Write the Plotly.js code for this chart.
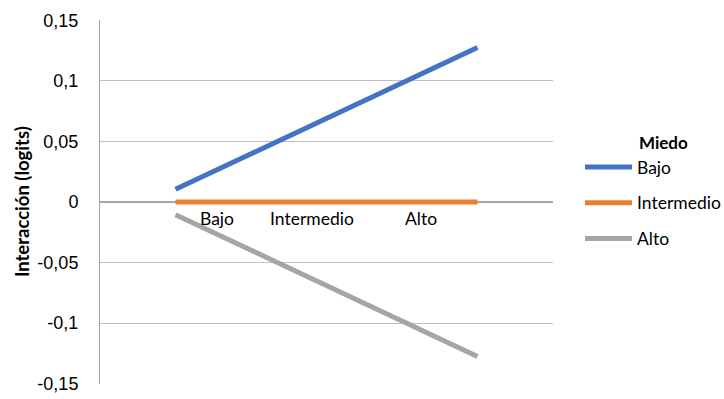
<!DOCTYPE html>
<html>
<head>
<meta charset="utf-8">
<script src="https://cdn.plot.ly/plotly-3.0.1.min.js"></script>
<style>html,body{margin:0;padding:0;background:#fff;}#chart{width:724px;height:399px;}</style>
</head>
<body>
<div id="chart"></div>
<script>
const categories = ['Bajo', 'Intermedio', 'Alto'];
const seriesNames = ['Bajo', 'Intermedio', 'Alto'];
const bajoValues = [0.0105, 0.069, 0.1275];
const intermedioValues = [0, 0, 0];
const altoValues = [-0.0105, -0.069, -0.1275];
const yTickVals = [-0.15, -0.1, -0.05, 0, 0.05, 0.1, 0.15];
const yTickText = ['-0,15', '-0,1', '-0,05', '0', '0,05', '0,1', '0,15'];
const legendTitle = 'Miedo';
const yTitle = 'Interacción (logits)';

const colors = ['#4472C4', '#ED7D31', '#A5A5A5'];
const allValues = [bajoValues, intermedioValues, altoValues];
const xIdx = categories.map((c, i) => i);

const traces = allValues.map((vals, i) => ({
  type: 'scatter', mode: 'lines', x: xIdx, y: vals, name: seriesNames[i],
  legendgroup: 'g' + i,
  line: {color: colors[i], width: 5},
  hoverinfo: 'skip'
}));

const labelX = [0.275, 0.907, 1.624];
const annotations = categories.map((c, i) => ({
  x: labelX[i], y: 0, xref: 'x', yref: 'y', text: c, showarrow: false,
  xanchor: 'center', yanchor: 'middle', yshift: -16,
  font: {family: 'Lato, sans-serif', size: 17.5, color: '#000'}
}));
annotations.push({
  x: -0.172, y: 0.5, xref: 'paper', yref: 'paper', text: '<b>' + yTitle + '</b>',
  textangle: -90, showarrow: false, xanchor: 'center', yanchor: 'middle',
  font: {family: 'Lato, sans-serif', size: 18.5, color: '#000'}
});
annotations.push({
  x: (637 - 100) / 453, y: (384 - 142) / 364, xref: 'paper', yref: 'paper', text: '<b>' + legendTitle + '</b>',
  showarrow: false, xanchor: 'left', yanchor: 'middle',
  font: {family: 'Lato, sans-serif', size: 17, color: '#000'}
});

const layout = {
  width: 724, height: 399,
  margin: {l: 100, r: 171, t: 20, b: 15, autoexpand: false},
  paper_bgcolor: '#fff', plot_bgcolor: '#fff',
  showlegend: true,
  legend: {
    xref: 'container', yref: 'container',
    x: 580 / 724, y: (399 - 149) / 399, xanchor: 'left', yanchor: 'top',
    traceorder: 'grouped', tracegroupgap: 10, itemwidth: 47,
    font: {family: 'Lato, sans-serif', size: 17.5, color: '#000'},
    bgcolor: 'rgba(0,0,0,0)'
  },
  xaxis: {
    range: [-0.5, 2.5], showgrid: false, zeroline: false, showticklabels: false,
    showline: false, fixedrange: true
  },
  yaxis: {
    range: [-0.1502, 0.1502], tickvals: yTickVals, ticktext: yTickText,
    showgrid: true, gridcolor: '#BFBFBF', gridwidth: 1,
    zeroline: true, zerolinecolor: '#A6A6A6', zerolinewidth: 1.5,
    showline: true, linecolor: '#A6A6A6', linewidth: 1,
    ticks: '', ticklabelstandoff: 17,
    tickfont: {family: 'Liberation Sans, Arial, sans-serif', size: 18, color: '#000'},
    fixedrange: true
  },
  annotations: annotations
};

Plotly.newPlot('chart', traces, layout, {displayModeBar: false, staticPlot: true});
</script>
</body>
</html>
